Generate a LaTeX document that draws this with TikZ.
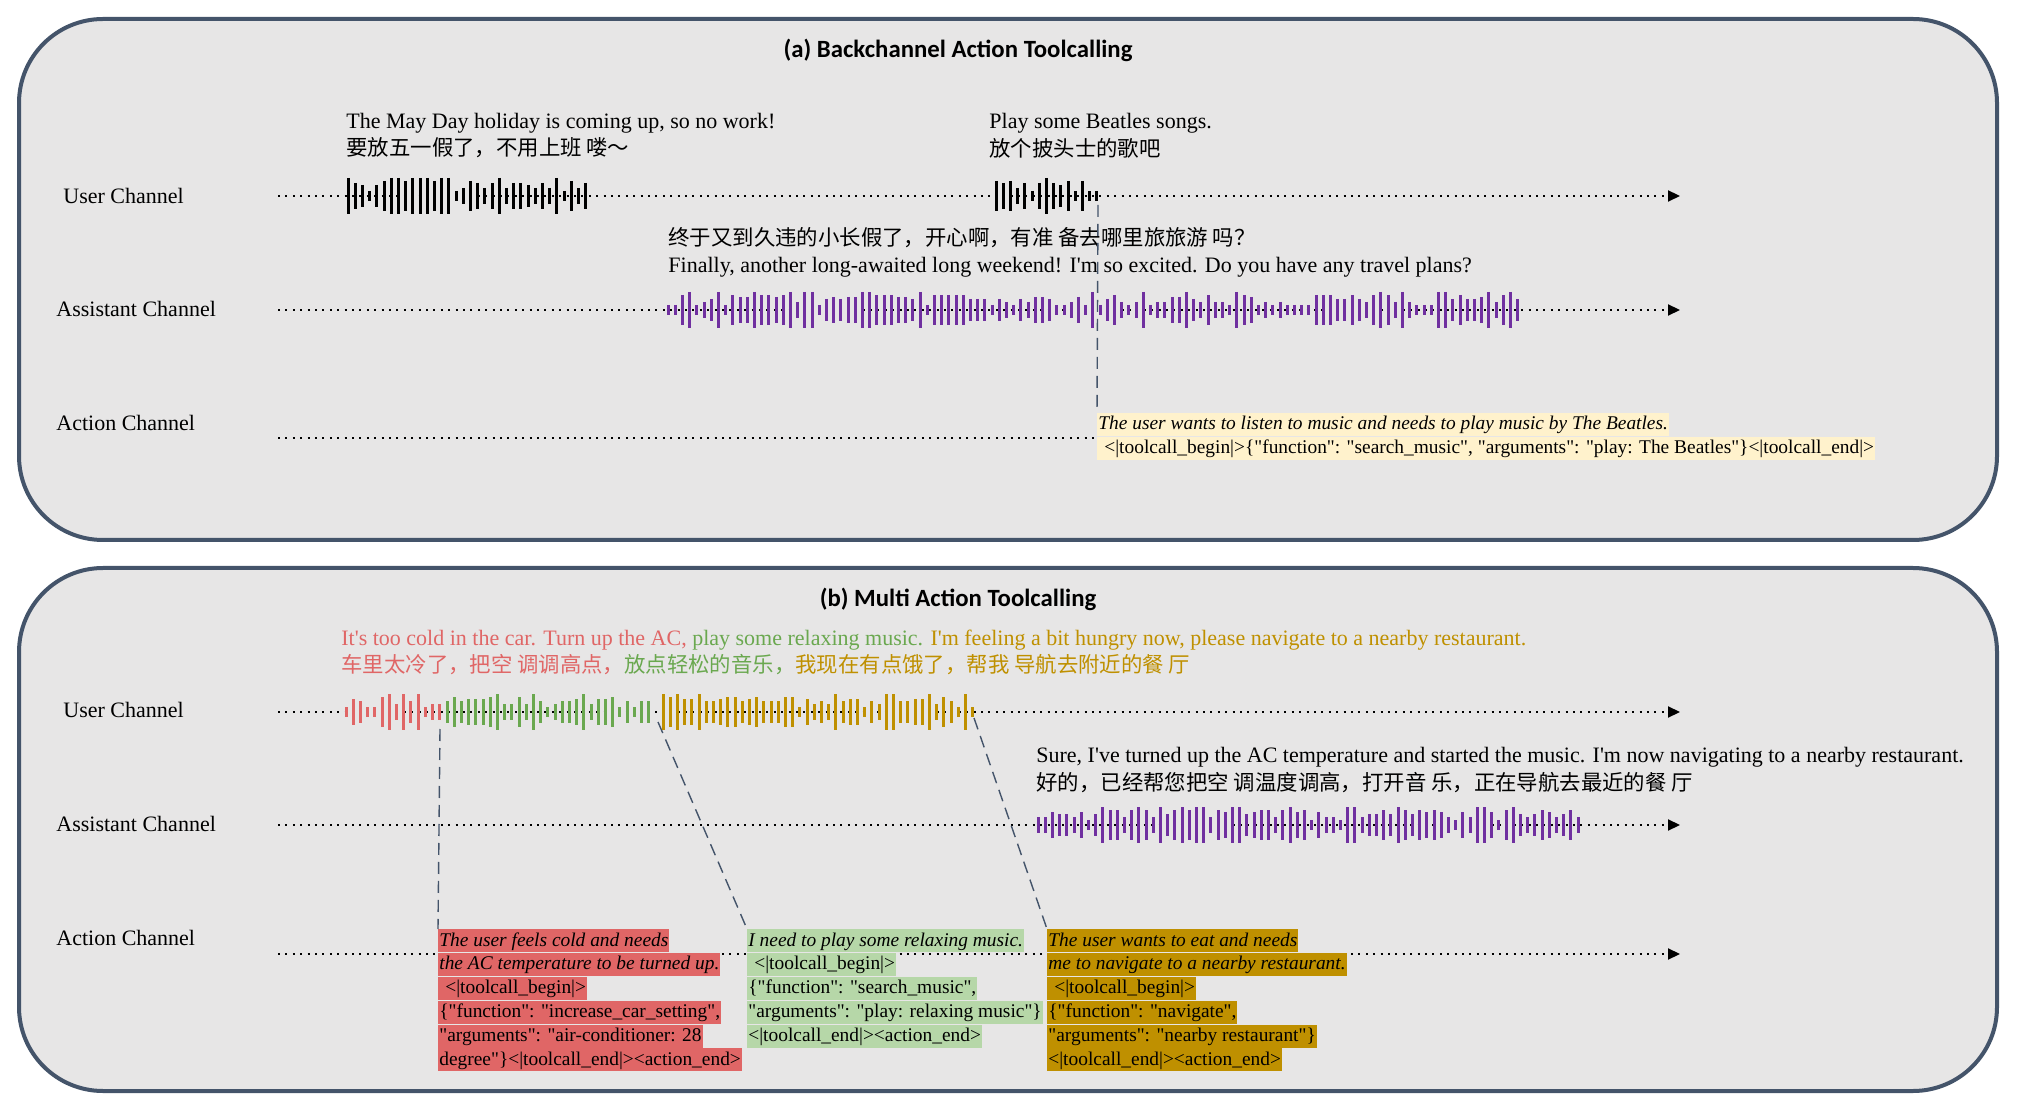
\documentclass[tikz,border=0pt]{standalone}
\usepackage{fontspec}
\setmainfont{Liberation Serif}[Ligatures=TeXOff]
\newfontfamily\cjk{Noto Sans CJK SC}
\newfontfamily\calibri{Carlito}
\usetikzlibrary{arrows.meta,positioning}

\definecolor{panelfill}{HTML}{E7E6E6}
\definecolor{panelline}{HTML}{44546A}
\definecolor{wavepurple}{HTML}{7030A0}
\definecolor{coldred}{HTML}{E06666}
\definecolor{musicgreen}{HTML}{6AA84F}
\definecolor{foodgold}{HTML}{BF9000}
\definecolor{callyellow}{HTML}{FFF2CC}
\definecolor{callgreen}{HTML}{B6D7A8}

\tikzset{
  panel/.style={draw=panelline, line width=2pt, fill=panelfill, rounded corners=42pt},
  titletext/.style={font=\calibri\bfseries\fontsize{12.4}{14}\selectfont},
  chanlabel/.style={anchor=west, inner sep=0pt, font=\fontsize{11}{13}\selectfont},
  chanline/.style={line width=1pt, dash pattern=on 1pt off 2.7pt},
  chanarrow/.style={chanline, -{Triangle[length=6pt,width=5.5pt]}},
  cutline/.style={draw=panelline, line width=0.7pt, dash pattern=on 6pt off 3.5pt},
  saytext/.style={anchor=west, inner sep=0pt, font=\fontsize{11}{13}\selectfont},
  saycjk/.style={anchor=west, inner sep=0pt, font=\cjk\fontsize{10.7}{13}\selectfont},
  callline/.style={anchor=north west, inner xsep=0.5pt, inner ysep=0pt,
    text height=8.3pt, text depth=3.2pt, font=\fontsize{9.7}{11}\selectfont},
}

% bars of a sound wave: start x, number of bars, y of the channel, colour
\newcommand\wavebars[4]{%
  \pgfmathsetseed{#2}%
  \foreach \bi in {0,...,#2}{
    \pgfmathsetmacro\bx{#1+7.2*\bi}
    \pgfmathsetmacro\bh{{5,8,11,13,15,18}[int(6*rnd)]}
    \draw[#4, line width=1.5pt] (\bx,{#3-\bh}) -- (\bx,{#3+\bh});
  }}

\begin{document}
\begin{tikzpicture}[x=0.5pt,y=-0.5pt]
  \useasboundingbox (0,0) rectangle (2017,1111);

  % (a) backchannel
  \draw[panel] (19,19) rectangle (1997,540);
  \node[titletext] (titleA) at (958,50) {(a) Backchannel Action Toolcalling};

  \node[chanlabel] (userA) at (63,196) {User Channel};
  \node[chanlabel] (asstA) at (56,309) {Assistant Channel};
  \node[chanlabel] (actA) at (56,423) {Action Channel};

  \coordinate (userA-s) at (278,196);
  \coordinate (userA-e) at (1680,196);
  \coordinate (asstA-s) at (278,310);
  \coordinate (asstA-e) at (1680,310);
  \coordinate (actA-s) at (278,438);
  \coordinate (actA-e) at (1097,438);
  \draw[chanarrow] (userA-s) -- (userA-e);
  \draw[chanarrow] (asstA-s) -- (asstA-e);
  \draw[chanline] (actA-s) -- (actA-e);

  \node[saytext] (sayA1) at (346,123) {The May Day holiday is coming up, so no work!};
  \node[saycjk] (sayA1c) at (346,148) {要放五一假了，不用上班 喽～};
  \node[saytext] (sayA2) at (989,123) {Play some Beatles songs.};
  \node[saycjk] (sayA2c) at (989,148) {放个披头士的歌吧};
  \node[saycjk] (replyAc) at (668,238) {终于又到久违的小长假了，开心啊，有准 备去哪里旅旅游 吗？};
  \node[saytext] (replyA) at (668,267) {Finally, another long-awaited long weekend! I'm so excited. Do you have any travel plans?};

  \wavebars{348}{33}{196}{black}
  \wavebars{996}{14}{196}{black}
  \wavebars{668}{118}{310}{wavepurple}

  \node[callline, fill=callyellow] (callA1) at (1097,413)
    {\itshape The user wants to listen to music and needs to play music by The Beatles.};
  \node[callline, fill=callyellow, below=0pt of callA1.south west, anchor=north west] (callA2)
    {\hspace{3pt}<|toolcall\_begin|>\{"function": "search\_music", "arguments": "play: The Beatles"\}<|toolcall\_end|>};

  \coordinate (cutA) at (1098,205);
  \draw[cutline] (cutA) -- (callA1.north west);

  % (b) multi action
  \draw[panel] (19,568) rectangle (1997,1091);
  \node[titletext] (titleB) at (958,599) {(b) Multi Action Toolcalling};

  \node[chanlabel] (userB) at (63,710) {User Channel};
  \node[chanlabel] (asstB) at (56,824) {Assistant Channel};
  \node[chanlabel] (actB) at (56,938) {Action Channel};

  \coordinate (userB-s) at (278,712);
  \coordinate (userB-e) at (1680,712);
  \coordinate (asstB-s) at (278,825);
  \coordinate (asstB-e) at (1680,825);
  \coordinate (actB-s) at (278,954);
  \coordinate (actB-e) at (1680,954);
  \draw[chanarrow] (userB-s) -- (userB-e);
  \draw[chanarrow] (asstB-s) -- (asstB-e);
  \draw[chanarrow] (actB-s) -- (actB-e);

  \node[saytext] (sayB) at (341,640) {\color{coldred}It's too cold in the car. Turn up the AC, \color{musicgreen}play some relaxing music. \color{foodgold}I'm feeling a bit hungry now, please navigate to a nearby restaurant.};
  \node[saycjk] (sayBc) at (341,665) {\color{coldred}车里太冷了，把空 调调高点，\color{musicgreen}放点轻松的音乐，\color{foodgold}我现在有点饿了，帮我 导航去附近的餐 厅};
  \node[saytext] (replyB) at (1036,757) {Sure, I've turned up the AC temperature and started the music. I'm now navigating to a nearby restaurant.};
  \node[saycjk] (replyBc) at (1036,783) {好的，已经帮您把空 调温度调高，打开音 乐，正在导航去最近的餐 厅};

  \wavebars{346}{13}{712}{coldred}
  \wavebars{447}{28}{712}{musicgreen}
  \wavebars{663}{43}{712}{foodgold}
  \wavebars{1038}{75}{825}{wavepurple}

  % red call
  \node[callline, fill=coldred] (callB1) at (438,929) {\itshape The user feels cold and needs};
  \node[callline, fill=coldred, below=0pt of callB1.south west, anchor=north west] (callB2) {\itshape the AC temperature to be turned up.};
  \node[callline, fill=coldred, below=0pt of callB2.south west, anchor=north west] (callB3) {\hspace{3pt}<|toolcall\_begin|>};
  \node[callline, fill=coldred, below=0pt of callB3.south west, anchor=north west] (callB4) {\{"function": "increase\_car\_setting",};
  \node[callline, fill=coldred, below=0pt of callB4.south west, anchor=north west] (callB5) {"arguments": "air-conditioner: 28};
  \node[callline, fill=coldred, below=0pt of callB5.south west, anchor=north west] (callB6) {degree"\}<|toolcall\_end|><action\_end>};

  % green call
  \node[callline, fill=callgreen] (callC1) at (747,929) {\itshape I need to play some relaxing music.};
  \node[callline, fill=callgreen, below=0pt of callC1.south west, anchor=north west] (callC2) {\hspace{3pt}<|toolcall\_begin|>};
  \node[callline, fill=callgreen, below=0pt of callC2.south west, anchor=north west] (callC3) {\{"function": "search\_music",};
  \node[callline, fill=callgreen, below=0pt of callC3.south west, anchor=north west] (callC4) {"arguments": "play: relaxing music"\}};
  \node[callline, fill=callgreen, below=0pt of callC4.south west, anchor=north west] (callC5) {<|toolcall\_end|><action\_end>};

  % gold call
  \node[callline, fill=foodgold] (callD1) at (1047,929) {\itshape The user wants to eat and needs};
  \node[callline, fill=foodgold, below=0pt of callD1.south west, anchor=north west] (callD2) {\itshape me to navigate to a nearby restaurant.};
  \node[callline, fill=foodgold, below=0pt of callD2.south west, anchor=north west] (callD3) {\hspace{3pt}<|toolcall\_begin|>};
  \node[callline, fill=foodgold, below=0pt of callD3.south west, anchor=north west] (callD4) {\{"function": "navigate",};
  \node[callline, fill=foodgold, below=0pt of callD4.south west, anchor=north west] (callD5) {"arguments": "nearby restaurant"\}};
  \node[callline, fill=foodgold, below=0pt of callD5.south west, anchor=north west] (callD6) {<|toolcall\_end|><action\_end>};

  \coordinate (cutB1) at (440,729);
  \coordinate (cutB2) at (658,722);
  \coordinate (cutB3) at (974,718);
  \draw[cutline] (cutB1) -- (callB1.north west);
  \draw[cutline] (cutB2) -- (callC1.north west);
  \draw[cutline] (cutB3) -- (callD1.north west);
\end{tikzpicture}
\end{document}
